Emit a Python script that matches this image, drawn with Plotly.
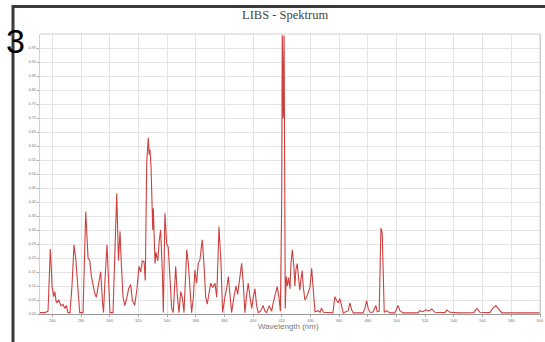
import plotly.graph_objects as go

# Spectrum (wavelength in nm, relative intensity)
wavelength = [
    251.4, 254.9, 257.0, 257.7, 258.6, 259.4, 259.8, 261.0, 261.7, 262.8,
    264.5, 265.9, 267.5, 268.6, 269.8, 270.9, 272.3, 273.7, 275.1, 276.3,
    277.4, 279.1, 281.4, 282.4, 283.3, 284.9, 286.1, 287.2, 288.4, 289.5,
    290.7, 291.8, 293.7, 295.0, 295.7, 296.7, 298.1, 299.2, 300.2, 302.3,
    303.7, 304.9, 306.1, 307.2, 308.1, 309.3, 310.5, 311.6, 313.2, 314.6,
    315.8, 317.4, 319.0, 320.4, 321.6, 322.7, 323.9, 324.8, 325.8, 326.3,
    326.9, 327.5, 328.1, 328.8, 329.5, 330.0, 330.4, 331.0, 331.6, 332.3,
    333.5, 334.6, 335.5, 336.7, 337.4, 338.5, 339.7, 340.8, 342.0, 343.2,
    344.3, 346.0, 347.1, 348.3, 349.5, 350.6, 351.8, 353.7, 354.8, 356.0,
    357.1, 358.3, 359.4, 360.6, 361.7, 362.9, 364.5, 365.7, 366.9, 368.0,
    369.2, 370.4, 371.8, 373.4, 374.6, 376.2, 377.6, 378.7, 380.3, 381.5,
    382.7, 383.8, 385.0, 386.6, 388.0, 389.2, 390.3, 392.0, 393.1, 394.3,
    395.5, 396.6, 397.8, 399.0, 400.1, 401.3, 402.4, 403.6, 405.2, 407.0,
    408.2, 409.4, 411.2, 412.9, 414.0, 415.2, 416.8, 418.0, 419.0, 419.9,
    420.4, 421.0, 421.6, 422.4, 423.1, 423.9, 424.7, 425.7, 426.4, 427.3,
    428.4, 429.1, 429.8, 430.7, 431.7, 432.6, 433.3, 434.2, 434.9, 436.1,
    437.3, 438.4, 439.6, 440.8, 441.9, 443.1, 445.4, 446.6, 447.7, 448.9,
    455.6, 457.0, 458.2, 459.3, 460.5, 461.7, 462.8, 466.3, 467.5, 468.7,
    469.8, 476.7, 477.9, 479.1, 480.2, 481.4, 483.5, 485.6, 486.5, 487.9,
    488.6, 489.1, 490.0, 490.7, 491.4, 493.0, 495.3, 498.8, 501.1, 502.3,
    504.4, 514.9, 516.2, 518.3, 520.4, 522.5, 524.6, 526.7, 533.7, 535.1,
    537.2, 544.1, 553.9, 556.0, 558.1, 565.0, 567.1, 569.2, 571.3, 573.4,
    585.9, 600.0,
]
intensity = [
    0.005, 0.005, 0.010, 0.120, 0.232, 0.150, 0.098, 0.062, 0.080, 0.040,
    0.050, 0.030, 0.035, 0.020, 0.030, 0.005, 0.005, 0.100, 0.247, 0.200,
    0.130, 0.005, 0.005, 0.200, 0.366, 0.200, 0.190, 0.135, 0.100, 0.075,
    0.060, 0.100, 0.151, 0.040, 0.005, 0.120, 0.247, 0.120, 0.005, 0.005,
    0.200, 0.430, 0.190, 0.295, 0.180, 0.060, 0.030, 0.050, 0.090, 0.105,
    0.050, 0.030, 0.090, 0.170, 0.150, 0.190, 0.187, 0.120, 0.540, 0.600,
    0.629, 0.570, 0.587, 0.527, 0.400, 0.300, 0.378, 0.250, 0.180, 0.220,
    0.190, 0.265, 0.300, 0.150, 0.005, 0.360, 0.250, 0.240, 0.120, 0.020,
    0.005, 0.170, 0.070, 0.005, 0.080, 0.060, 0.005, 0.229, 0.180, 0.080,
    0.005, 0.060, 0.157, 0.110, 0.180, 0.193, 0.265, 0.180, 0.060, 0.035,
    0.080, 0.110, 0.095, 0.110, 0.060, 0.312, 0.180, 0.005, 0.060, 0.090,
    0.134, 0.060, 0.005, 0.060, 0.100, 0.070, 0.110, 0.181, 0.110, 0.005,
    0.070, 0.110, 0.060, 0.020, 0.060, 0.090, 0.030, 0.005, 0.010, 0.030,
    0.010, 0.005, 0.030, 0.010, 0.040, 0.062, 0.098, 0.060, 0.010, 0.400,
    0.995, 0.700, 0.995, 0.020, 0.134, 0.100, 0.130, 0.090, 0.181, 0.229,
    0.170, 0.100, 0.157, 0.180, 0.130, 0.085, 0.122, 0.155, 0.100, 0.050,
    0.060, 0.080, 0.095, 0.163, 0.080, 0.008, 0.012, 0.006, 0.022, 0.006,
    0.004, 0.062, 0.048, 0.040, 0.055, 0.025, 0.004, 0.012, 0.040, 0.015,
    0.004, 0.004, 0.020, 0.048, 0.020, 0.006, 0.006, 0.030, 0.008, 0.010,
    0.200, 0.307, 0.290, 0.100, 0.006, 0.012, 0.004, 0.004, 0.030, 0.012,
    0.004, 0.004, 0.012, 0.008, 0.015, 0.010, 0.018, 0.006, 0.005, 0.014,
    0.006, 0.004, 0.005, 0.020, 0.006, 0.005, 0.020, 0.030, 0.018, 0.004,
    0.004, 0.004,
]

x_ticks = [260, 280, 300, 320, 340, 360, 380, 400, 420, 440, 460, 480,
           500, 520, 540, 560, 580, 600]
y_ticks = [0.00, 0.05, 0.10, 0.15, 0.20, 0.25, 0.30, 0.35, 0.40, 0.45,
           0.50, 0.55, 0.60, 0.65, 0.70, 0.75, 0.80, 0.85, 0.90, 0.95]

fig = go.Figure()
fig.add_trace(go.Scatter(
    x=wavelength, y=intensity, mode="lines",
    line=dict(color="rgb(205,65,65)", width=1.1),
    hoverinfo="skip", showlegend=False,
))

frame = dict(color="#3a3a3a", width=3)
fig.update_layout(
    width=545, height=342,
    margin=dict(l=40, r=5, t=34, b=28),
    paper_bgcolor="white", plot_bgcolor="white",
    font=dict(family="Liberation Sans, Arial, sans-serif"),
    xaxis=dict(
        range=[251.4, 600], tickvals=x_ticks,
        ticktext=[str(v) for v in x_ticks],
        showgrid=True, gridcolor="#e4e4e4", gridwidth=1,
        zeroline=False, showline=True, linecolor="#9a9a9a", linewidth=1,
        mirror=False, ticks="outside", ticklen=2, tickcolor="#aaaaaa",
        tickfont=dict(size=4, color="#777777"), automargin=False,
    ),
    yaxis=dict(
        range=[0, 1.0], tickvals=y_ticks,
        ticktext=["%.2f" % v for v in y_ticks],
        showgrid=True, gridcolor="#e4e4e4", gridwidth=1,
        zeroline=False, showline=True, linecolor="#d0d0d0", linewidth=1,
        mirror=True, ticks="outside", ticklen=2, tickcolor="#aaaaaa",
        tickfont=dict(size=4, color="#777777"), automargin=False,
    ),
    shapes=[
        dict(type="line", xref="paper", yref="paper", x0=0, x1=1, y0=1, y1=1,
             line=dict(color="#d0d0d0", width=1)),
        dict(type="line", xref="paper", yref="paper", x0=1, x1=1, y0=0, y1=1,
             line=dict(color="#d0d0d0", width=1)),
        dict(type="line", xref="paper", yref="paper",
             x0=-0.054, x1=1.02, y0=1.0985, y1=1.0985, line=frame,
             layer="above"),
        dict(type="line", xref="paper", yref="paper",
             x0=-0.054, x1=-0.054, y0=-0.12, y1=1.104, line=frame,
             layer="above"),
    ],
    annotations=[
        dict(text="LIBS - Spektrum", xref="paper", yref="paper",
             x=0.49, y=1.068, xanchor="center", yanchor="middle",
             showarrow=False,
             font=dict(family="Liberation Serif, Times New Roman, serif",
                       size=12.5, color="#444444")),
        dict(text="Wavelength (nm)", xref="paper", yref="paper",
             x=0.496, y=-0.046, xanchor="center", yanchor="middle",
             showarrow=False, font=dict(size=8, color="#777777")),
        dict(text="3", xref="paper", yref="paper",
             x=-0.072, y=1.05, xanchor="left", yanchor="top",
             showarrow=False,
             font=dict(family="Liberation Sans, Arial, sans-serif",
                       size=34, color="black")),
    ],
)

fig.write_html("out.html", config={"displayModeBar": False},
               post_script="document.body.style.margin='0px';")
